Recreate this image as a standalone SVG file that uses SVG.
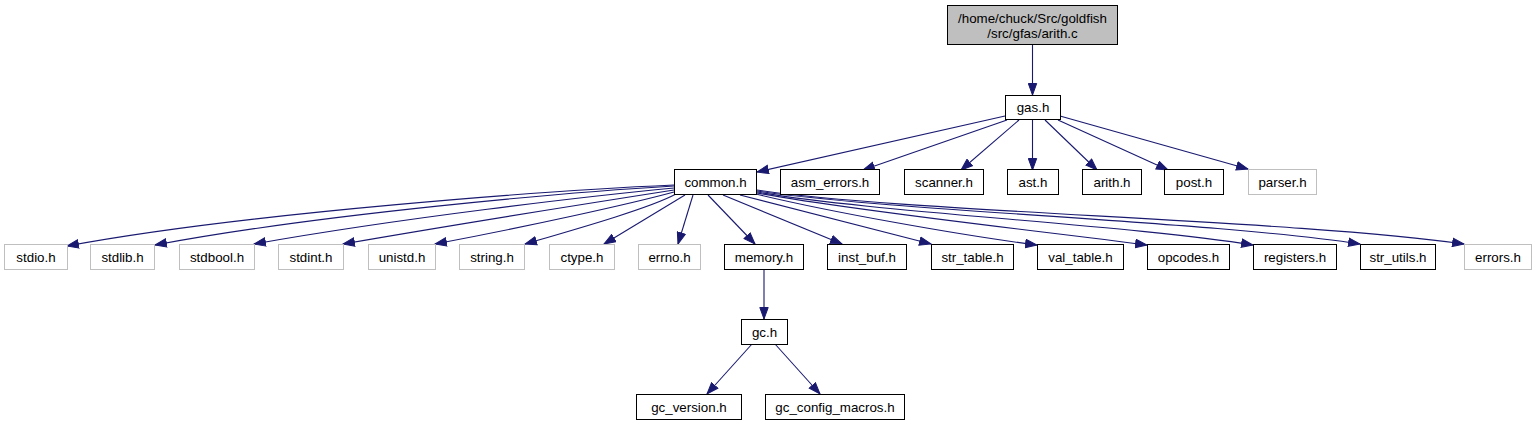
<svg xmlns="http://www.w3.org/2000/svg" width="1536" height="425" viewBox="0 0 1536 425">
<style>
rect{fill:#fff;stroke:#000;stroke-width:1}
.g rect{stroke:#bfbfbf}
.r rect{fill:#bfbfbf}
text{font-family:"Liberation Sans",Arial,sans-serif;font-size:13.33px;fill:#000;text-anchor:middle}
#edges path{fill:none;stroke:#191970;stroke-width:1.1;marker-end:url(#a)}
</style>
<defs>
<marker id="a" markerUnits="userSpaceOnUse" markerWidth="13" markerHeight="10" viewBox="0 0 13 10" refX="12" refY="5" orient="auto">
<path d="M0.5,0.8 L12,5 L0.5,9.2 z" fill="#191970" stroke="#191970"/>
</marker>
</defs>
<rect x="0" y="0" width="1536" height="425" style="fill:#fff;stroke:none"/>
<g id="edges">
<path d="M1032.5,45 L1032.5,95"/>
<path d="M1005,116 L757,172"/>
<path d="M1007,120 L863,170"/>
<path d="M1019,120 L961,170"/>
<path d="M1032.5,120 L1032.5,170"/>
<path d="M1045,120 L1097,170"/>
<path d="M1058,120 L1168,170"/>
<path d="M1060,116 L1248,169"/>
<path d="M674,185 C560,190 250,212 67,246"/>
<path d="M674,186 C570,192 320,214 155,245"/>
<path d="M674,188 C590,196 400,218 254,244"/>
<path d="M674,190 C610,200 470,222 343,244"/>
<path d="M674,192 C630,204 530,226 435,244"/>
<path d="M676,194 C650,208 580,228 525,244"/>
<path d="M685,195 L604,244"/>
<path d="M693,195 L678,244"/>
<path d="M708,195 L755,244"/>
<path d="M723,195 L842,244"/>
<path d="M740,195 L931,244"/>
<path d="M756,194 C830,212 960,235 1037,245"/>
<path d="M757,193 C860,212 1050,232 1147,245"/>
<path d="M757,192 C870,212 1130,225 1253,245"/>
<path d="M757,191 C880,210 1220,222 1360,244"/>
<path d="M757,190 C900,212 1300,220 1464,244"/>
<path d="M764,269 L764,319"/>
<path d="M752,344 L707,394"/>
<path d="M775,344 L820,394"/>
</g>
<g id="n_root" class="r"><rect x="947.5" y="5.5" width="170" height="39"/><text x="1032.5" y="23">/home/chuck/Src/goldfish</text><text x="1032.5" y="38">/src/gfas/arith.c</text></g>
<g id="n_gas"><rect x="1005.5" y="95.5" width="55" height="24"/><text x="1033" y="112">gas.h</text></g>
<g id="n_common"><rect x="674.5" y="169.5" width="82" height="25"/><text x="715.5" y="187">common.h</text></g>
<g id="n_asm_errors"><rect x="780.5" y="169.5" width="99" height="25"/><text x="830" y="187">asm_errors.h</text></g>
<g id="n_scanner"><rect x="904.5" y="169.5" width="79" height="25"/><text x="944" y="187">scanner.h</text></g>
<g id="n_ast"><rect x="1007.5" y="169.5" width="51" height="25"/><text x="1033" y="187">ast.h</text></g>
<g id="n_arith"><rect x="1082.5" y="169.5" width="59" height="25"/><text x="1112" y="187">arith.h</text></g>
<g id="n_post"><rect x="1164.5" y="169.5" width="59" height="25"/><text x="1194" y="187">post.h</text></g>
<g id="n_parser" class="g"><rect x="1248.5" y="169.5" width="68" height="25"/><text x="1282.5" y="187">parser.h</text></g>
<g id="n_stdio" class="g"><rect x="4.5" y="244.5" width="63" height="25"/><text x="36" y="262">stdio.h</text></g>
<g id="n_stdlib" class="g"><rect x="90.5" y="244.5" width="64" height="25"/><text x="122.5" y="262">stdlib.h</text></g>
<g id="n_stdbool" class="g"><rect x="179.5" y="244.5" width="75" height="25"/><text x="217" y="262">stdbool.h</text></g>
<g id="n_stdint" class="g"><rect x="278.5" y="244.5" width="65" height="25"/><text x="311" y="262">stdint.h</text></g>
<g id="n_unistd" class="g"><rect x="368.5" y="244.5" width="67" height="25"/><text x="402" y="262">unistd.h</text></g>
<g id="n_string" class="g"><rect x="459.5" y="244.5" width="65" height="25"/><text x="492" y="262">string.h</text></g>
<g id="n_ctype" class="g"><rect x="549.5" y="244.5" width="65" height="25"/><text x="582" y="262">ctype.h</text></g>
<g id="n_errno" class="g"><rect x="638.5" y="244.5" width="62" height="25"/><text x="669.5" y="262">errno.h</text></g>
<g id="n_memory"><rect x="724.5" y="244.5" width="79" height="25"/><text x="764" y="262">memory.h</text></g>
<g id="n_inst_buf"><rect x="827.5" y="244.5" width="79" height="25"/><text x="867" y="262">inst_buf.h</text></g>
<g id="n_str_table"><rect x="931.5" y="244.5" width="82" height="25"/><text x="972.5" y="262">str_table.h</text></g>
<g id="n_val_table"><rect x="1037.5" y="244.5" width="86" height="25"/><text x="1080.5" y="262">val_table.h</text></g>
<g id="n_opcodes"><rect x="1147.5" y="244.5" width="82" height="25"/><text x="1188.5" y="262">opcodes.h</text></g>
<g id="n_registers"><rect x="1253.5" y="244.5" width="83" height="25"/><text x="1295" y="262">registers.h</text></g>
<g id="n_str_utils"><rect x="1360.5" y="244.5" width="75" height="25"/><text x="1398" y="262">str_utils.h</text></g>
<g id="n_errors" class="g"><rect x="1464.5" y="244.5" width="67" height="25"/><text x="1498" y="262">errors.h</text></g>
<g id="n_gc"><rect x="741.5" y="319.5" width="46" height="25"/><text x="764.5" y="337">gc.h</text></g>
<g id="n_gc_version"><rect x="636.5" y="394.5" width="105" height="25"/><text x="689" y="412">gc_version.h</text></g>
<g id="n_gc_config_macros"><rect x="765.5" y="394.5" width="139" height="25"/><text x="835" y="412">gc_config_macros.h</text></g>
</svg>
